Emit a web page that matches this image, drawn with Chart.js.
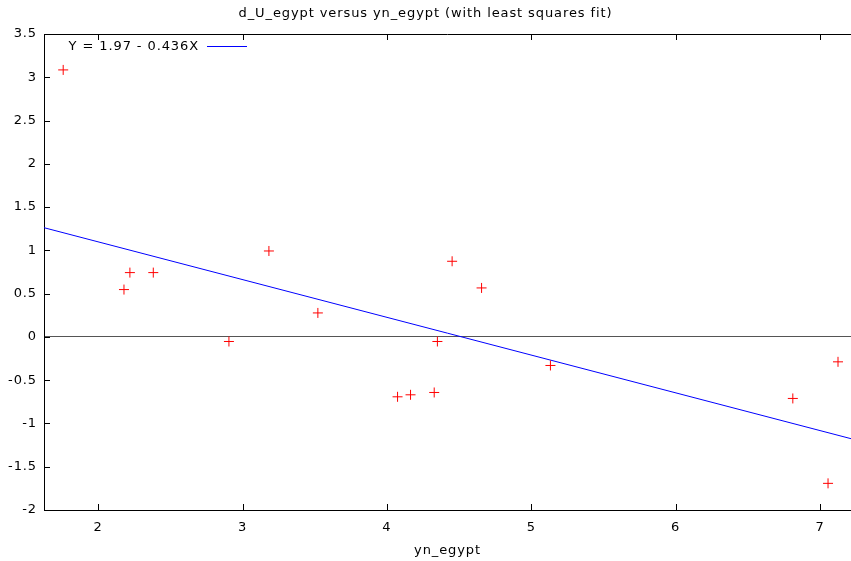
<!DOCTYPE html>
<html>
<head>
<meta charset="utf-8">
<script src="https://cdn.jsdelivr.net/npm/chart.js@4.4.0/dist/chart.umd.min.js"></script>
<style>
  html, body { margin: 0; padding: 0; background: #fff; overflow: hidden; }
  #wrap { width: 851px; height: 561px; }
  canvas { display: block; }
</style>
</head>
<body>
<div id="wrap"><canvas id="chart" width="851" height="561"></canvas></div>
<script>
// observed values (yn_egypt, d_U_egypt)
const ynEgypt = [1.758, 2.179, 2.22, 2.382, 2.906, 3.183, 3.522, 4.074, 4.164, 4.328, 4.35, 4.452, 4.656, 5.133, 6.812, 7.056, 7.125];
const dUEgypt = [3.085, 0.547, 0.743, 0.743, -0.053, 0.993, 0.277, -0.692, -0.669, -0.642, -0.053, 0.874, 0.566, -0.33, -0.711, -1.692, -0.288];

// least squares line endpoints at the plot edges
const fitX = [1.625, 7.215];
const fitY = [1.262, -1.176];
const fitLabel = 'Y = 1.97 - 0.436X';

const xTicks = [2, 3, 4, 5, 6, 7];
const yTicks = [-2, -1.5, -1, -0.5, 0, 0.5, 1, 1.5, 2, 2.5, 3, 3.5];

const FONT = 'DejaVu Sans, sans-serif';
const SIZE = 13;
const SPACING = '0.9px';

// gnuplot-ish text is a bit wider than plain DejaVu
const spacingPlugin = {
  id: 'spacing',
  beforeUpdate(chart) { chart.ctx.letterSpacing = SPACING; },
  beforeDraw(chart) { chart.ctx.letterSpacing = SPACING; }
};

// top border, inward tick marks, key in the corner
const framePlugin = {
  id: 'frame',
  afterDatasetsDraw(chart) {
    const { ctx, chartArea: a, scales: { x, y } } = chart;
    ctx.save();
    ctx.strokeStyle = '#000';
    ctx.lineWidth = 1;
    ctx.beginPath();
    ctx.moveTo(a.left, a.top + 0.5);
    ctx.lineTo(a.right, a.top + 0.5);
    xTicks.forEach((v) => {
      const px = Math.round(x.getPixelForValue(v)) + 0.5;
      ctx.moveTo(px, a.bottom);
      ctx.lineTo(px, a.bottom - 6);
      ctx.moveTo(px, a.top);
      ctx.lineTo(px, a.top + 6);
    });
    yTicks.forEach((v) => {
      const py = Math.round(y.getPixelForValue(v)) + 0.5;
      ctx.moveTo(a.left, py);
      ctx.lineTo(a.left + 6, py);
    });
    ctx.stroke();

    const fit = chart.data.datasets[1];
    ctx.font = `${SIZE}px ${FONT}`;
    ctx.fillStyle = '#000';
    ctx.textAlign = 'right';
    ctx.textBaseline = 'middle';
    ctx.fillText(fit.label, a.left + 155, a.top + 13);
    ctx.strokeStyle = fit.borderColor;
    ctx.beginPath();
    ctx.moveTo(a.left + 163, a.top + 12.5);
    ctx.lineTo(a.left + 203, a.top + 12.5);
    ctx.stroke();
    ctx.restore();
  }
};

function noPadding(scale) {
  scale.paddingLeft = 0;
  scale.paddingRight = 0;
  scale.paddingTop = 0;
  scale.paddingBottom = 0;
}

new Chart(document.getElementById('chart'), {
  type: 'scatter',
  data: {
    datasets: [
      {
        label: 'd_U_egypt',
        data: ynEgypt.map((v, i) => ({ x: v, y: dUEgypt[i] })),
        pointStyle: 'cross',
        pointRadius: 5,
        pointBorderWidth: 1,
        borderColor: '#ff0000',
        backgroundColor: '#ff0000'
      },
      {
        label: fitLabel,
        type: 'line',
        data: fitX.map((v, i) => ({ x: v, y: fitY[i] })),
        borderColor: '#0000ff',
        borderWidth: 1,
        pointRadius: 0,
        fill: false
      }
    ]
  },
  options: {
    responsive: false,
    animation: false,
    events: [],
    layout: { padding: 0, autoPadding: false },
    plugins: {
      legend: { display: false },
      tooltip: { enabled: false },
      title: {
        display: true,
        text: 'd_U_egypt versus yn_egypt (with least squares fit)',
        color: '#000',
        font: { family: FONT, size: SIZE, weight: 'normal' },
        padding: { top: 6, bottom: 12.4 }
      }
    },
    scales: {
      x: {
        type: 'linear',
        min: fitX[0],
        max: fitX[1],
        afterBuildTicks(scale) { scale.ticks = xTicks.map((v) => ({ value: v })); },
        afterFit(scale) { scale.height = 51; noPadding(scale); },
        grid: { display: false, drawTicks: false },
        border: { display: true, color: '#000', width: 1 },
        ticks: { color: '#000', padding: 10, maxRotation: 0, font: { family: FONT, size: SIZE } },
        title: {
          display: true,
          text: 'yn_egypt',
          color: '#000',
          font: { family: FONT, size: SIZE },
          padding: { top: 4, bottom: 3 }
        }
      },
      y: {
        type: 'linear',
        min: -2,
        max: 3.5,
        afterBuildTicks(scale) { scale.ticks = yTicks.map((v) => ({ value: v })); },
        afterFit(scale) { scale.width = 44; noPadding(scale); },
        grid: {
          drawTicks: false,
          color: (c) => (c.tick && c.tick.value === 0 ? '#555' : 'rgba(0,0,0,0)'),
          lineWidth: 1
        },
        border: { display: true, color: '#000', width: 1 },
        ticks: {
          color: '#000',
          padding: 7,
          font: { family: FONT, size: SIZE },
          callback: (v) => String(v)
        }
      }
    }
  },
  plugins: [spacingPlugin, framePlugin]
});
</script>
</body>
</html>
